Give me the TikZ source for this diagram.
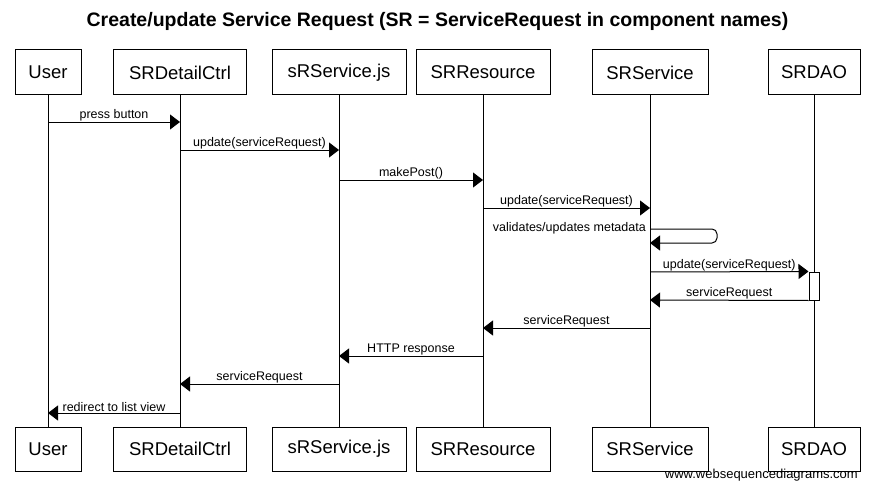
\documentclass[tikz,border=0pt]{standalone}
\usepackage{fontspec}
\setmainfont{Liberation Sans}
\usetikzlibrary{arrows.meta}

\tikzset{
  actor/.style={draw, line width=1pt, inner sep=0pt, font=\fontsize{18.5}{20}\selectfont},
  life/.style={line width=1pt},
  msg/.style={line width=1pt, -{Triangle[length=10pt,width=15pt]}},
  lbl/.style={above, inner sep=0.5pt, font=\fontsize{12.5}{14}\selectfont},
}

\begin{document}
\begin{tikzpicture}[x=1pt,y=-1pt]
          \fill[white] (0,0) rectangle (876,495);
          \useasboundingbox (0,0) rectangle (876,495);
          \node[font=\bfseries\fontsize{19.5}{22}\selectfont] at (437.5,21) (title)
            {Create/update Service Request (SR = ServiceRequest in component names)};
          % participants, top row
          \node[actor, minimum width=66pt, minimum height=45pt] at (48,72.5) (user) {User};
          \node[actor, minimum width=133pt, minimum height=45pt] at (180,72.5) (ctrl) {SRDetailCtrl};
          \node[actor, minimum width=134pt, minimum height=45pt] at (339,72.5) (js) {sRService.js};
          \node[actor, minimum width=134pt, minimum height=45pt] at (483,72.5) (res) {SRResource};
          \node[actor, minimum width=116pt, minimum height=45pt] at (650,72.5) (svc) {SRService};
          \node[actor, minimum width=92pt, minimum height=45pt] at (814,72.5) (dao) {SRDAO};
          % participants, bottom row
          \node[actor, minimum width=66pt, minimum height=44pt] at (48,449) (userB) {User};
          \node[actor, minimum width=133pt, minimum height=44pt] at (180,449) (ctrlB) {SRDetailCtrl};
          \node[actor, minimum width=134pt, minimum height=44pt] at (339,449) (jsB) {sRService.js};
          \node[actor, minimum width=134pt, minimum height=44pt] at (483,449) (resB) {SRResource};
          \node[actor, minimum width=116pt, minimum height=44pt] at (650,449) (svcB) {SRService};
          \node[actor, minimum width=92pt, minimum height=44pt] at (814,449) (daoB) {SRDAO};
          % lifelines
          \path[life] (user) edge (userB);
          \path[life] (ctrl) edge (ctrlB);
          \path[life] (js) edge (jsB);
          \path[life] (res) edge (resB);
          \path[life] (svc) edge (svcB);
          \path[life] (dao) edge (daoB);
          % activation of SRDAO
          \node[draw, line width=1pt, fill=white, minimum width=10pt, minimum height=28pt, inner sep=0pt]
            at (814,286) (act) {};
          % messages
          \draw[msg] (user |- 0,122) -- node[lbl] {press button} (ctrl |- 0,122);
          \draw[msg] (ctrl |- 0,150) -- node[lbl] {update(serviceRequest)} (js |- 0,150);
          \draw[msg] (js |- 0,180) -- node[lbl] {makePost()} (res |- 0,180);
          \draw[msg] (res |- 0,208) -- node[lbl] {update(serviceRequest)} (svc |- 0,208);
          \coordinate (loopA) at (717,229);
          \coordinate (loopB) at (717,243);
          \draw[msg, rounded corners=5pt] (svc |- 0,229) -- (loopA) -- (loopB) -- (svc |- 0,243);
          \node[anchor=east, inner sep=0pt, font=\fontsize{12.5}{14}\selectfont] at (646,228) (loopLbl)
            {validates/updates metadata};
          \draw[msg] (svc |- 0,272) -- node[lbl] {update(serviceRequest)} (act.north west);
          \draw[msg] (act.south west) -- node[lbl] {serviceRequest} (svc |- 0,300);
          \draw[msg] (svc |- 0,328) -- node[lbl] {serviceRequest} (res |- 0,328);
          \draw[msg] (res |- 0,356) -- node[lbl] {HTTP response} (js |- 0,356);
          \draw[msg] (js |- 0,384) -- node[lbl] {serviceRequest} (ctrl |- 0,384);
          \draw[msg] (ctrl |- 0,413) -- node[lbl] {redirect to list view} (user |- 0,413);
          \node[anchor=base east, inner sep=0pt, font=\fontsize{13}{15}\selectfont] at (858,478) (credit)
            {www.websequencediagrams.com};
        \end{tikzpicture}
\end{document}
